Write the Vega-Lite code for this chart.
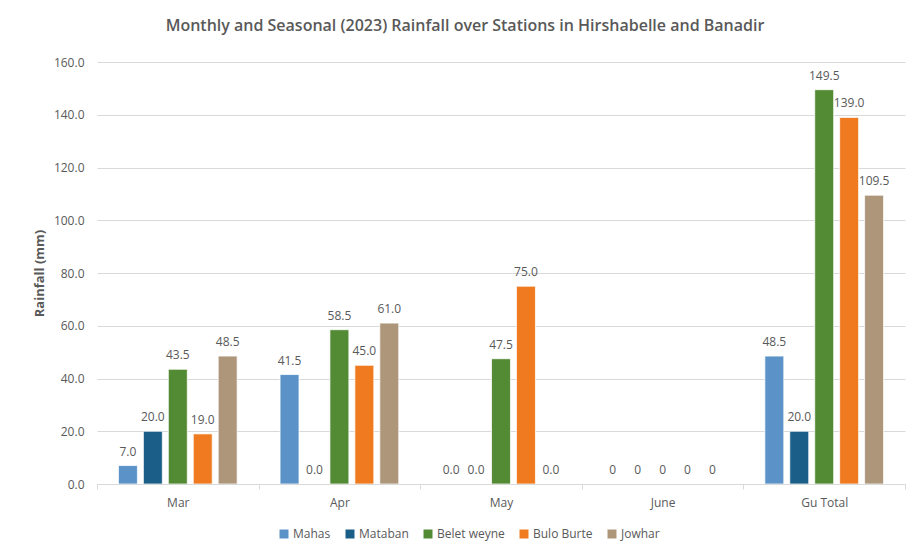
{
  "$schema": "https://vega.github.io/schema/vega-lite/v6.json",
  "autosize": {"type": "none"},
  "padding": {"left": 97, "top": 62, "right": 4, "bottom": 67},
  "width": 808,
  "height": 422,
  "background": "white",
  "title": {
    "text": "Monthly and Seasonal (2023) Rainfall over Stations in Hirshabelle and Banadir",
    "anchor": "middle",
    "frame": "group",
    "dx": -36,
    "offset": 22,
    "font": "Open Sans",
    "fontSize": 16,
    "fontWeight": 600,
    "color": "#595959"
  },
  "data": {
    "values": [
      {"month": "Mar", "station": "Mahas", "rain": 7.0, "label": "7.0"},
      {"month": "Mar", "station": "Mataban", "rain": 20.0, "label": "20.0"},
      {"month": "Mar", "station": "Belet weyne", "rain": 43.5, "label": "43.5"},
      {"month": "Mar", "station": "Bulo Burte", "rain": 19.0, "label": "19.0"},
      {"month": "Mar", "station": "Jowhar", "rain": 48.5, "label": "48.5"},
      {"month": "Apr", "station": "Mahas", "rain": 41.5, "label": "41.5"},
      {"month": "Apr", "station": "Mataban", "rain": 0.0, "label": "0.0"},
      {"month": "Apr", "station": "Belet weyne", "rain": 58.5, "label": "58.5"},
      {"month": "Apr", "station": "Bulo Burte", "rain": 45.0, "label": "45.0"},
      {"month": "Apr", "station": "Jowhar", "rain": 61.0, "label": "61.0"},
      {"month": "May", "station": "Mahas", "rain": 0.0, "label": "0.0"},
      {"month": "May", "station": "Mataban", "rain": 0.0, "label": "0.0"},
      {"month": "May", "station": "Belet weyne", "rain": 47.5, "label": "47.5"},
      {"month": "May", "station": "Bulo Burte", "rain": 75.0, "label": "75.0"},
      {"month": "May", "station": "Jowhar", "rain": 0.0, "label": "0.0"},
      {"month": "June", "station": "Mahas", "rain": 0, "label": "0"},
      {"month": "June", "station": "Mataban", "rain": 0, "label": "0"},
      {"month": "June", "station": "Belet weyne", "rain": 0, "label": "0"},
      {"month": "June", "station": "Bulo Burte", "rain": 0, "label": "0"},
      {"month": "June", "station": "Jowhar", "rain": 0, "label": "0"},
      {"month": "Gu Total", "station": "Mahas", "rain": 48.5, "label": "48.5"},
      {"month": "Gu Total", "station": "Mataban", "rain": 20.0, "label": "20.0"},
      {"month": "Gu Total", "station": "Belet weyne", "rain": 149.5, "label": "149.5"},
      {"month": "Gu Total", "station": "Bulo Burte", "rain": 139.0, "label": "139.0"},
      {"month": "Gu Total", "station": "Jowhar", "rain": 109.5, "label": "109.5"}
    ]
  },
  "encoding": {
    "x": {
      "field": "month",
      "type": "nominal",
      "sort": ["Mar", "Apr", "May", "June", "Gu Total"],
      "scale": {"paddingInner": 0, "paddingOuter": 0},
      "axis": {
        "title": null,
        "labelAngle": 0,
        "tickBand": "extent",
        "tickSize": 5,
        "tickColor": "#d9d9d9",
        "domainColor": "#d9d9d9",
        "labelPadding": 8,
        "grid": false,
        "zindex": 1
      }
    },
    "xOffset": {
      "field": "station",
      "type": "nominal",
      "sort": ["Mahas", "Mataban", "Belet weyne", "Bulo Burte", "Jowhar"],
      "scale": {"paddingInner": 0.24, "paddingOuter": 0.86}
    },
    "y": {
      "field": "rain",
      "type": "quantitative",
      "scale": {"domain": [0, 160]},
      "axis": {
        "title": "Rainfall (mm)",
        "values": [0, 20, 40, 60, 80, 100, 120, 140, 160],
        "format": ".1f",
        "domain": false,
        "ticks": false,
        "labelPadding": 13,
        "gridColor": "#d9d9d9",
        "titlePadding": 7,
        "titleFontSize": 13
      }
    }
  },
  "layer": [
    {
      "mark": {"type": "bar", "stroke": "white", "strokeWidth": 0.75},
      "encoding": {
        "color": {
          "field": "station",
          "type": "nominal",
          "sort": ["Mahas", "Mataban", "Belet weyne", "Bulo Burte", "Jowhar"],
          "scale": {
            "domain": ["Mahas", "Mataban", "Belet weyne", "Bulo Burte", "Jowhar"],
            "range": ["#5B93C9", "#1B5F88", "#538A34", "#EF7A1F", "#AD967A"]
          },
          "legend": {
            "title": null,
            "orient": "none",
            "direction": "horizontal",
            "legendX": 181,
            "legendY": 466,
            "padding": 0,
            "symbolType": "square",
            "symbolSize": 81,
            "symbolStrokeWidth": 0,
            "labelOffset": 3,
            "columnPadding": 13,
            "labelFont": "Open Sans",
            "labelFontSize": 12,
            "labelColor": "#595959"
          }
        }
      }
    },
    {
      "mark": {
        "type": "text",
        "baseline": "alphabetic",
        "dy": -10,
        "font": "Open Sans",
        "fontSize": 12,
        "color": "#595959"
      },
      "encoding": {"text": {"field": "label"}}
    }
  ],
  "config": {
    "view": {"stroke": null},
    "axis": {
      "labelFont": "Open Sans",
      "labelFontSize": 12,
      "labelColor": "#595959",
      "titleFont": "Open Sans",
      "titleFontSize": 12,
      "titleFontWeight": "bold",
      "titleColor": "#595959"
    }
  }
}
